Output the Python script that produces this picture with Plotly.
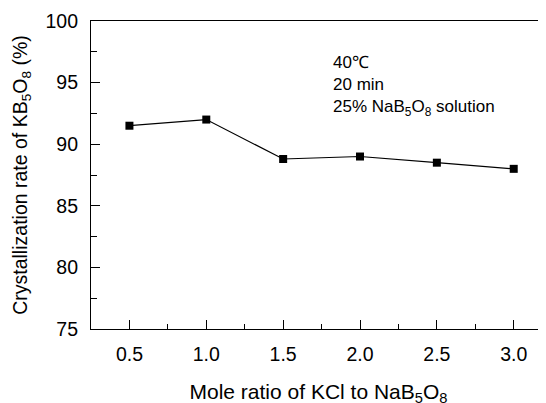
import plotly.graph_objects as go

mole_ratio = [0.5, 1.0, 1.5, 2.0, 2.5, 3.0]
cryst_rate = [91.5, 92.0, 88.8, 89.0, 88.5, 88.0]
x_ticks = [0.5, 1.0, 1.5, 2.0, 2.5, 3.0]
x_tick_labels = ["0.5", "1.0", "1.5", "2.0", "2.5", "3.0"]
y_ticks = [75, 80, 85, 90, 95, 100]

FONT = "Liberation Sans, Arial, sans-serif"

L, T, R, B = 83, 13, 8, 82
PW = 546 - L - R
PH = 403 - T - B

fig = go.Figure()
fig.add_trace(go.Scatter(
    x=mole_ratio, y=cryst_rate, mode="lines+markers",
    line=dict(color="black", width=1.2),
    marker=dict(symbol="square", size=8, color="black"),
    showlegend=False,
))

fig.update_layout(
    width=546, height=403,
    margin=dict(l=L, r=R, t=T, b=B),
    paper_bgcolor="white", plot_bgcolor="white",
    font=dict(family=FONT, color="black", size=19),
    xaxis=dict(
        range=[0.25, 3.21], tickvals=x_ticks, ticktext=x_tick_labels,
        ticks="inside", ticklen=9, tickwidth=1, tickcolor="black",
        minor=dict(dtick=0.25, tick0=0.25, ticks="inside", ticklen=5, tickwidth=1, tickcolor="black"),
        showline=True, linecolor="black", linewidth=1.2, mirror=True,
        showgrid=False, zeroline=False, automargin=False,
        ticklabelstandoff=7,
        tickfont=dict(size=19.5),
        title=dict(text="Mole ratio of KCl to NaB<sub>5</sub>O<sub>8</sub>", font=dict(size=21), standoff=20),
    ),
    yaxis=dict(
        range=[75, 100], tickvals=y_ticks,
        ticks="inside", ticklen=9, tickwidth=1, tickcolor="black",
        minor=dict(dtick=2.5, tick0=75, ticks="inside", ticklen=6, tickwidth=1, tickcolor="black"),
        showline=True, linecolor="black", linewidth=1.2, mirror=False,
        showgrid=False, zeroline=False, automargin=False,
        ticklabelstandoff=8,
        tickfont=dict(size=19.5),
        title=dict(text="Crystallization rate of KB<sub>5</sub>O<sub>8</sub> (%)", font=dict(size=19.5), standoff=12),
    ),
    annotations=[dict(
        xref="paper", yref="paper", x=(323 - L) / PW, y=1 - (42.7 - T) / PH,
        xanchor="left", yanchor="top", align="left", showarrow=False,
        text="40℃<br>20 min<br>25% NaB<sub>5</sub>O<sub>8</sub> solution",
        font=dict(size=17, family=FONT, color="black"),
    )],
)

fig.write_html("out.html")
